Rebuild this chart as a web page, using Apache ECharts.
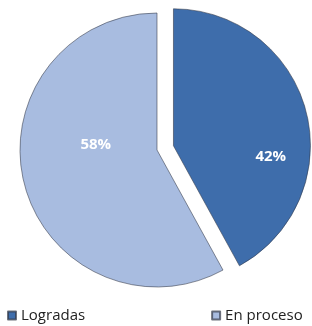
<!DOCTYPE html>
<html>
<head>
<meta charset="utf-8">
<script src="https://cdn.jsdelivr.net/npm/echarts@6/dist/echarts.min.js"></script>
<style>
  html, body { margin: 0; padding: 0; background: #fff; }
  #chart { width: 312px; height: 326px; }
</style>
</head>
<body>
<div id="chart"></div>
<script>
// data
const categories = ['Logradas', 'En proceso']
const values = [42, 58]
const colors = ['#3e6dab', '#a8bce0']

const chart = echarts.init(document.getElementById('chart'))

// nudges so the labels sit where the original put them
const labelShift = [[28, 29], [8, -23]]

chart.setOption({
  animation: false,
  color: colors,
  legend: {
    data: categories,
    orient: 'horizontal',
    left: 7,
    bottom: 3,
    width: 305,
    padding: 0,
    icon: 'rect',
    itemWidth: 8,
    itemHeight: 8,
    itemGap: 126,
    textStyle: { fontFamily: 'Open Sans', fontSize: 15, color: '#222' },
    selectedMode: false
  },
  series: [{
    type: 'pie',
    center: [157, 150],
    radius: 137,
    startAngle: 90,
    clockwise: true,
    selectedMode: 'single',
    selectedOffset: 17,
    itemStyle: { borderColor: 'rgba(50,55,70,0.7)', borderWidth: 0.8 },
    label: {
      position: 'inside',
      formatter: '{d}%',
      color: '#fff',
      fontFamily: 'Open Sans',
      fontWeight: 'bold',
      fontSize: 15
    },
    labelLayout: function (p) {
      const s = labelShift[p.dataIndex]
      return { dx: s[0], dy: s[1] }
    },
    emphasis: { disabled: true },
    data: categories.map((c, i) => ({
      name: c,
      value: values[i],
      selected: i === 0
    }))
  }]
})
</script>
</body>
</html>
